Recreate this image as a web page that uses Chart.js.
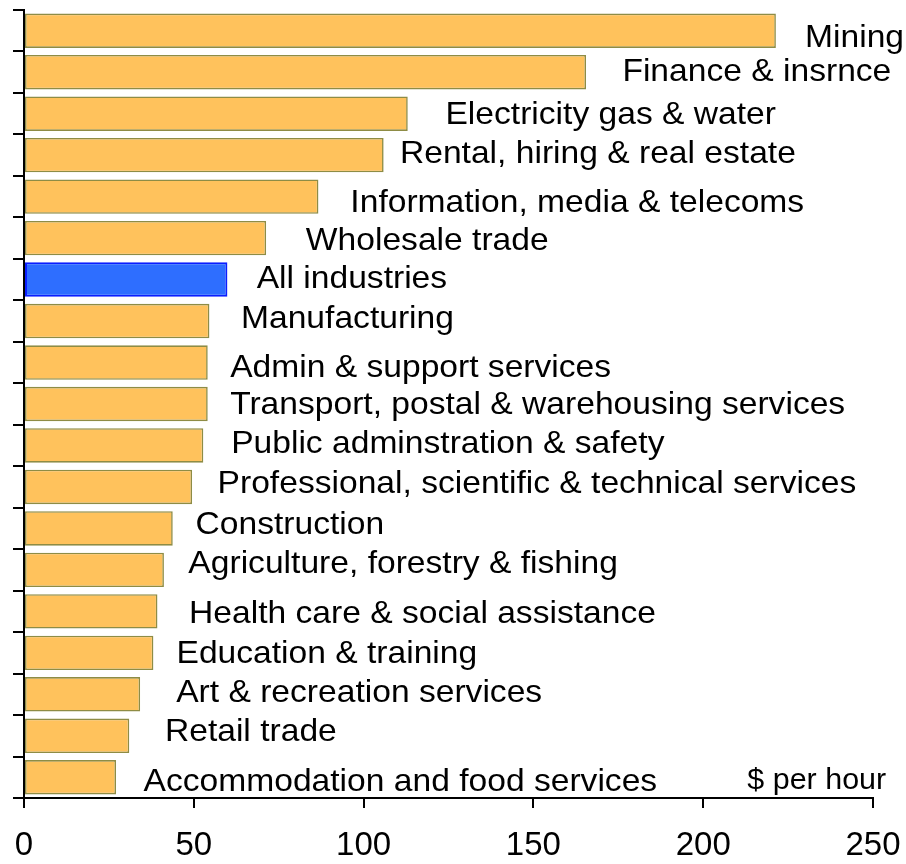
<!DOCTYPE html>
<html>
<head>
<meta charset="utf-8">
<script src="https://cdn.jsdelivr.net/npm/chart.js@4"></script>
<style>
  html, body { margin: 0; padding: 0; background: #fff; }
  #wrap { width: 906px; height: 864px; }
</style>
</head>
<body>
<div id="wrap"><canvas id="myChart" width="906" height="864"></canvas></div>
<script>
// ข้อมูล: อุตสาหกรรม และมูลค่า ($ per hour)
var industries = [
    'Mining', 'Finance & insrnce', 'Electricity gas & water',
    'Rental, hiring & real estate', 'Information, media & telecoms',
    'Wholesale trade', 'All industries', 'Manufacturing',
    'Admin & support services', 'Transport, postal & warehousing services',
    'Public adminstration & safety', 'Professional, scientific & technical services',
    'Construction', 'Agriculture, forestry & fishing', 'Health care & social assistance',
    'Education & training', 'Art & recreation services', 'Retail trade',
    'Accommodation and food services'
];
var values = [221.4, 165.5, 113, 105.9, 86.7, 71.3, 59.9, 54.6, 54.1, 54.1,
              52.8, 49.5, 43.8, 41.2, 39.3, 38.1, 34.2, 31.0, 27.1];
var xTicks = [0, 50, 100, 150, 200, 250];
var unitLabel = '$ per hour';

// ตำแหน่งป้ายชื่อ (หน่วยแกน x) และการเลื่อนแนวตั้ง (px, baseline จากกลางแถว)
var labelX = [230.0, 176.2, 124.1, 110.7, 96.1, 83.0, 68.5, 63.9, 60.7, 60.7,
              61.0, 57.0, 50.5, 48.4, 48.6, 44.9, 44.8, 41.5, 35.2];
var labelDy = [16, 9, 10.5, 7.5, 15, 12, 8, 6.5, 14, 10,
               7.5, 6.5, 5.5, 3, 11.5, 10, 7.5, 5, 14];

var FONT = '"Liberation Sans", Arial, sans-serif';
var orange = '#FFC25C', orangeBorder = '#8E8C45';
var blue = '#2E6EFF', blueBorder = '#0A1EFF';

var isAll = industries.map(function (n) { return n === 'All industries'; });
var fill = isAll.map(function (a) { return a ? blue : orange; });
var border = isAll.map(function (a) { return a ? blueBorder : orangeBorder; });
var borderW = isAll.map(function (a) { return a ? 2 : 1.6; });

// ป้ายชื่อข้างแท่ง
var barLabels = {
    id: 'barLabels',
    afterDatasetsDraw: function (chart) {
        var c = chart.ctx, xs = chart.scales.x, ys = chart.scales.y;
        c.save();
        c.fillStyle = '#000';
        c.textBaseline = 'alphabetic';
        c.textAlign = 'left';
        c.font = '32px ' + FONT;
        industries.forEach(function (name, i) {
            var x = xs.getPixelForValue(labelX[i]);
            var y = ys.getPixelForValue(i) + labelDy[i];
            c.save();
            c.translate(x, y);
            c.scale(1.05, 1);
            c.fillText(name, 0, 0);
            c.restore();
        });
        c.font = '29px ' + FONT;
        c.save();
        c.translate(xs.getPixelForValue(213), ys.getPixelForValue(industries.length - 1) + 12);
        c.scale(1.05, 1);
        c.fillText(unitLabel, 0, 0);
        c.restore();
        c.restore();
    }
};

var ctx = document.getElementById('myChart').getContext('2d');
var myChart = new Chart(ctx, {
    type: 'bar',
    data: {
        labels: industries,
        datasets: [{
            data: values,
            backgroundColor: fill,
            borderColor: border,
            borderWidth: borderW,
            borderSkipped: false,
            categoryPercentage: 1,
            barPercentage: 0.83
        }]
    },
    options: {
        indexAxis: 'y',
        responsive: false,
        animation: false,
        layout: { padding: { top: 10, right: 33, left: 0, bottom: 0 } },
        plugins: { legend: { display: false }, tooltip: { enabled: false } },
        scales: {
            x: {
                min: 0,
                max: 250,
                afterBuildTicks: function (s) { s.ticks = xTicks.map(function (v) { return { value: v }; }); },
                afterFit: function (s) { s.height = 66; s.paddingLeft = 0; s.paddingRight = 0; },
                ticks: { color: '#000', font: { family: FONT, size: 33 }, padding: 18, maxRotation: 0 },
                grid: { drawOnChartArea: false, drawTicks: true, tickLength: 10, color: '#000', lineWidth: 2 },
                border: { display: true, color: '#000', width: 2 }
            },
            y: {
                afterFit: function (s) { s.width = 24; s.paddingTop = 0; s.paddingBottom = 0; },
                ticks: { display: false },
                grid: { offset: true, drawOnChartArea: false, drawTicks: true, tickLength: 11, color: '#000', lineWidth: 2 },
                border: { display: true, color: '#000', width: 2 }
            }
        }
    },
    plugins: [barLabels]
});
</script>
</body>
</html>
